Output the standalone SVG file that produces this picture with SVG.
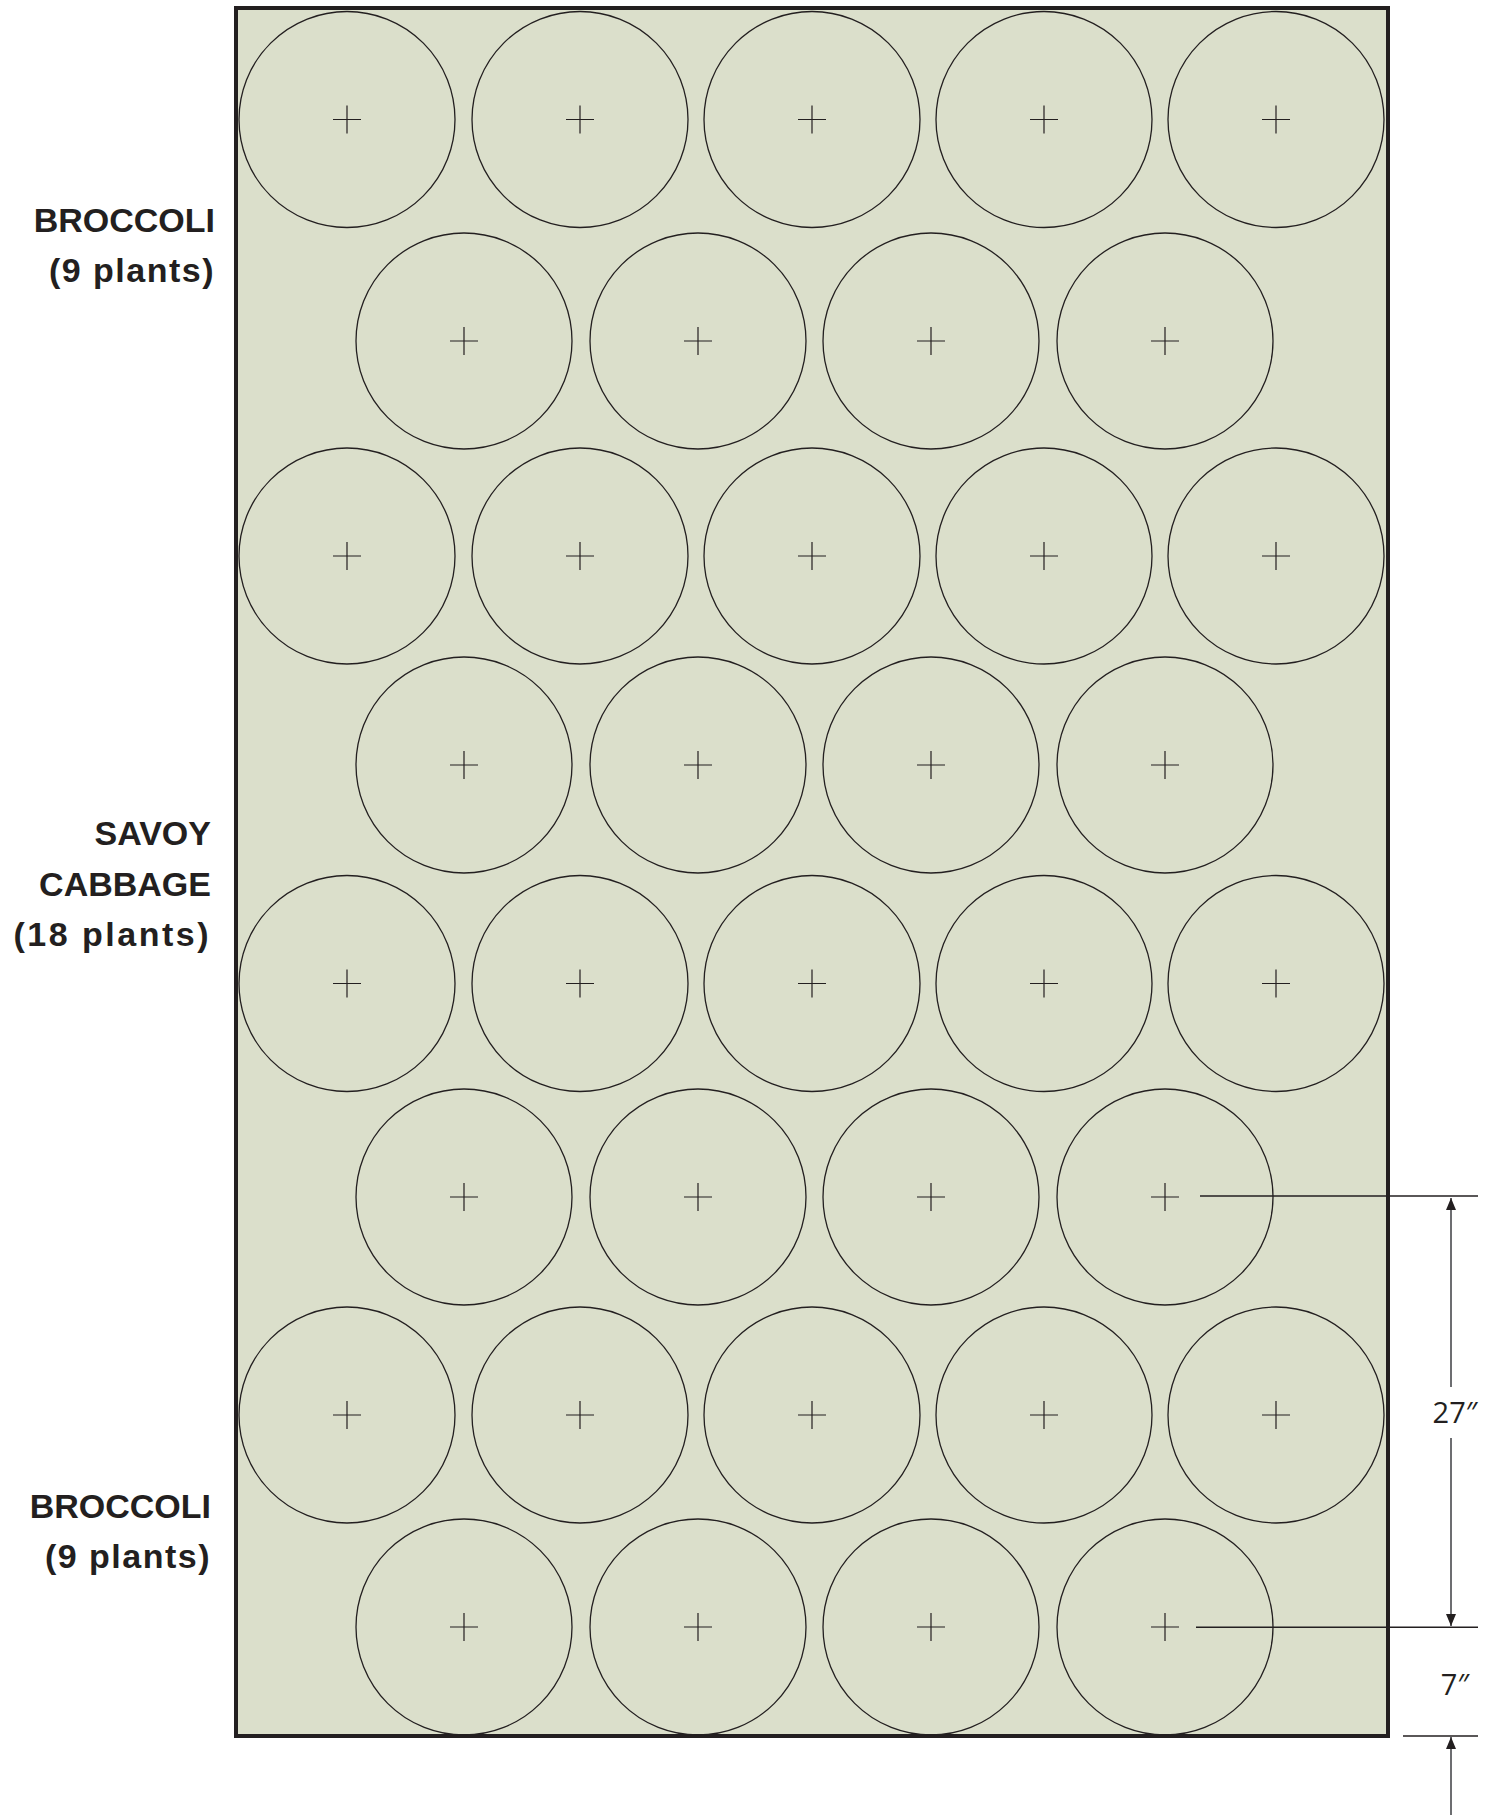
<svg xmlns="http://www.w3.org/2000/svg" xmlns:xlink="http://www.w3.org/1999/xlink" width="1493" height="1815" viewBox="0 0 1493 1815">
  <style>
    .bed { fill: #dbdfcb; stroke: #231f20; stroke-width: 4; }
    .plant { fill: none; stroke: #231f20; stroke-width: 1.3; }
    .cross { stroke: #231f20; stroke-width: 1.2; fill: none; }
    .lbl { font-family: "Liberation Sans", Arial, sans-serif; font-weight: bold; font-size: 34px; fill: #231f20; text-anchor: end; }
    .dim { font-family: "Open Sans", "Liberation Sans", sans-serif; font-size: 29px; fill: #231f20; text-anchor: middle; }
    .ext { stroke: #231f20; stroke-width: 1.6; fill: none; }
    .dline { stroke: #6d6e71; stroke-width: 2; fill: none; }
  </style>
  <defs>
    <g id="plant">
      <circle class="plant" cx="0" cy="0" r="108"/>
      <path class="cross" d="M-14 0H14M0 -14V14"/>
    </g>
    <marker id="arr" viewBox="0 0 12 10" refX="12" refY="5" markerWidth="12" markerHeight="10" markerUnits="userSpaceOnUse" orient="auto">
      <path d="M0 0L12 5L0 10Z" fill="#231f20"/>
    </marker>
  </defs>

  <g id="bed">
    <rect class="bed" x="236" y="8" width="1152" height="1728"/>
  </g>

  <g id="plants">
    <g id="row1">
      <use xlink:href="#plant" x="347" y="119.5"/>
      <use xlink:href="#plant" x="580" y="119.5"/>
      <use xlink:href="#plant" x="812" y="119.5"/>
      <use xlink:href="#plant" x="1044" y="119.5"/>
      <use xlink:href="#plant" x="1276" y="119.5"/>
    </g>
    <g id="row2">
      <use xlink:href="#plant" x="464" y="341"/>
      <use xlink:href="#plant" x="698" y="341"/>
      <use xlink:href="#plant" x="931" y="341"/>
      <use xlink:href="#plant" x="1165" y="341"/>
    </g>
    <g id="row3">
      <use xlink:href="#plant" x="347" y="556"/>
      <use xlink:href="#plant" x="580" y="556"/>
      <use xlink:href="#plant" x="812" y="556"/>
      <use xlink:href="#plant" x="1044" y="556"/>
      <use xlink:href="#plant" x="1276" y="556"/>
    </g>
    <g id="row4">
      <use xlink:href="#plant" x="464" y="765"/>
      <use xlink:href="#plant" x="698" y="765"/>
      <use xlink:href="#plant" x="931" y="765"/>
      <use xlink:href="#plant" x="1165" y="765"/>
    </g>
    <g id="row5">
      <use xlink:href="#plant" x="347" y="983.5"/>
      <use xlink:href="#plant" x="580" y="983.5"/>
      <use xlink:href="#plant" x="812" y="983.5"/>
      <use xlink:href="#plant" x="1044" y="983.5"/>
      <use xlink:href="#plant" x="1276" y="983.5"/>
    </g>
    <g id="row6">
      <use xlink:href="#plant" x="464" y="1197"/>
      <use xlink:href="#plant" x="698" y="1197"/>
      <use xlink:href="#plant" x="931" y="1197"/>
      <use xlink:href="#plant" x="1165" y="1197"/>
    </g>
    <g id="row7">
      <use xlink:href="#plant" x="347" y="1415"/>
      <use xlink:href="#plant" x="580" y="1415"/>
      <use xlink:href="#plant" x="812" y="1415"/>
      <use xlink:href="#plant" x="1044" y="1415"/>
      <use xlink:href="#plant" x="1276" y="1415"/>
    </g>
    <g id="row8">
      <use xlink:href="#plant" x="464" y="1627"/>
      <use xlink:href="#plant" x="698" y="1627"/>
      <use xlink:href="#plant" x="931" y="1627"/>
      <use xlink:href="#plant" x="1165" y="1627"/>
    </g>
  </g>

  <g id="labels">
    <g id="label-broccoli-top">
      <text class="lbl" x="215" y="232">BROCCOLI</text>
      <text class="lbl" x="215" y="282" letter-spacing="1.5">(9 plants)</text>
    </g>
    <g id="label-savoy">
      <text class="lbl" x="211" y="845">SAVOY</text>
      <text class="lbl" x="211" y="896">CABBAGE</text>
      <text class="lbl" x="211" y="946" letter-spacing="2.5">(18 plants)</text>
    </g>
    <g id="label-broccoli-bottom">
      <text class="lbl" x="211" y="1518">BROCCOLI</text>
      <text class="lbl" x="211" y="1568" letter-spacing="1.5">(9 plants)</text>
    </g>
  </g>

  <g id="connectors">
    <line class="ext" x1="1200" y1="1196" x2="1478" y2="1196"/>
    <line class="ext" x1="1196" y1="1627.3" x2="1478" y2="1627.3" stroke-width="1.3"/>
    <line class="ext" x1="1403" y1="1736" x2="1478" y2="1736" stroke-width="1.3"/>
    <line class="dline" x1="1451" y1="1387" x2="1451" y2="1198" marker-end="url(#arr)"/>
    <line class="dline" x1="1451" y1="1438" x2="1451" y2="1626" marker-end="url(#arr)"/>
    <line class="dline" x1="1451" y1="1815" x2="1451" y2="1737" marker-end="url(#arr)"/>
  </g>

  <g id="dimension-labels">
    <text class="dim" x="1455" y="1423">27″</text>
    <text class="dim" x="1455" y="1695">7″</text>
  </g>
</svg>
